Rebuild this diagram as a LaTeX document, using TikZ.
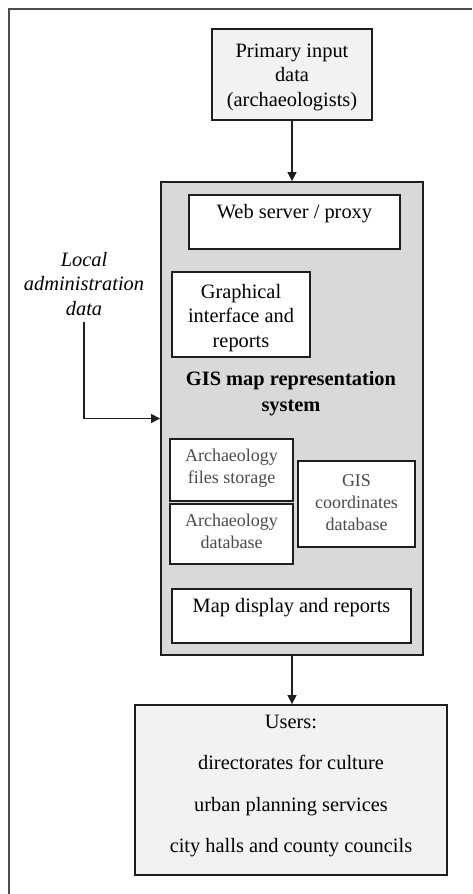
\documentclass[tikz,border=0pt]{standalone}
\usepackage{fontspec}
\setmainfont{Liberation Serif}
\usetikzlibrary{arrows.meta}
\definecolor{lightfill}{HTML}{F2F2F2}
\definecolor{gisfill}{HTML}{D9D9D9}
\definecolor{edge}{HTML}{1E1E1E}
\definecolor{greytext}{HTML}{4A4A4A}
\tikzset{
  box/.style={draw=edge, line width=1.8pt, rectangle, inner sep=0pt},
  txt/.style={align=center, inner sep=0pt, font=\fontsize{20.4}{24.5}\selectfont},
  smalltxt/.style={align=center, inner sep=0pt, text=greytext, font=\fontsize{18}{22}\selectfont},
  arr/.style={draw=edge, line width=1.4pt, -{Triangle[length=9pt,width=9pt]}}
}
\begin{document}
\begin{tikzpicture}[x=1pt,y=-1pt]
\useasboundingbox (0,0) rectangle (472,894);
% outer frame (cropped)
\draw[draw=edge!80, line width=2pt] (472,8.8) -- (8.8,8.8) -- (8.8,894);

\node[box, fill=lightfill, minimum width=160pt, minimum height=91pt] (prim) at (292,74.5) {};
\node[txt] (primt) at (292,77) {Primary input\\data\\(archaeologists)};

\node[box, fill=gisfill, minimum width=262pt, minimum height=473pt] (gis) at (292,418.5) {};

\node[box, fill=white, minimum width=211pt, minimum height=54pt] (web) at (294.5,222) {};
\node[txt] (webt) at (294.5,214) {Web server / proxy};

\node[box, fill=white, minimum width=138pt, minimum height=85pt] (graph) at (241,314.5) {};
\node[txt] (grapht) at (241,318) {Graphical\\interface and\\reports};

\node[txt, font=\fontsize{20.4}{26}\selectfont\bfseries] (gist) at (291,394) {GIS map representation\\system};

\node[txt, font=\fontsize{20.4}{24.5}\selectfont\itshape] (local) at (84,284) {Local\\administration\\data};
\coordinate (lstart) at (84,322);
\coordinate (lcorner) at (84,418.5);
\coordinate (lend) at (gis.west |- lcorner);

\node[box, fill=white, minimum width=123pt, minimum height=62pt] (files) at (231.5,470) {};
\node[smalltxt] (filest) at (231.5,468) {Archaeology\\files storage};
\node[box, fill=white, minimum width=123pt, minimum height=60pt] (adb) at (231.5,534) {};
\node[smalltxt] (adbt) at (231.5,531) {Archaeology\\database};

\node[box, fill=white, minimum width=117pt, minimum height=86pt] (coord) at (356.5,504) {};
\node[smalltxt] (coordt) at (356.5,503) {GIS\\coordinates\\database};

\node[box, fill=white, minimum width=239pt, minimum height=54pt] (map) at (291.5,616) {};
\node[txt] (mapt) at (291.5,608) {Map display and reports};

\node[box, fill=lightfill, minimum width=312pt, minimum height=170pt] (users) at (291,790) {};
\node[txt, font=\fontsize{20.4}{41.5}\selectfont] (userst) at (291,786) {Users:\\directorates for culture\\urban planning services\\city halls and county councils};

\draw[arr] (prim.south -| gis.north) -- (gis.north);
\draw[arr] (lstart) -- (lcorner) -- (lend);
\draw[arr] (gis.south) -- (gis.south |- users.north);
\end{tikzpicture}
\end{document}
